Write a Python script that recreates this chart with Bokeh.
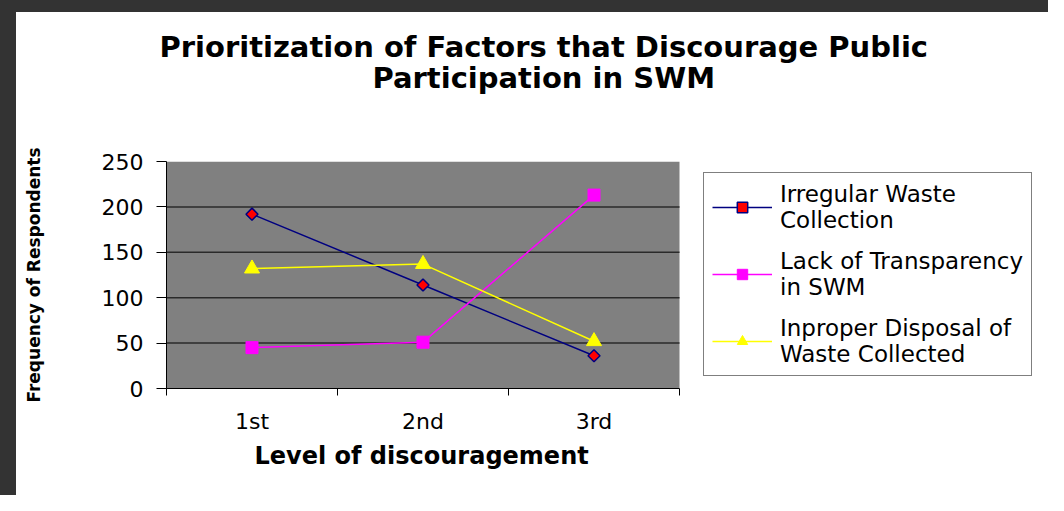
import math
from bokeh.plotting import figure
from bokeh.models import Range1d, FixedTicker, Legend, LegendItem, Title
from bokeh.embed import file_html
from bokeh.resources import INLINE

# ---- data ----
categories = ["1st", "2nd", "3rd"]
irregular = [192, 114, 36]
lack = [45, 51, 213]
inproper = [132, 137, 52]
y_ticks = [0, 50, 100, 150, 200, 250]
title_lines = ["Prioritization of Factors that Discourage Public", "Participation in SWM"]
x_label = "Level of discouragement"
y_label = "Frequency of Respondents"
series_labels = ["Irregular Waste\nCollection", "Lack of Transparency\nin SWM", "Inproper Disposal of\nWaste Collected"]

# ---- layout (pixels) ----
W, H = 1048, 495
PLOT_L, PLOT_R = 166, 679          # plot-area edges
FRAME_R = 1040                     # frame extends right so the legend is not clipped
n = len(categories)
xs = [i + 0.5 for i in range(n)]
bounds = list(range(n + 1))
x_end = n * (FRAME_R - PLOT_L) / (PLOT_R - PLOT_L)

p = figure(width=W, height=H, output_backend="svg", toolbar_location=None,
           x_range=Range1d(0, x_end), y_range=Range1d(y_ticks[0], y_ticks[-1]),
           min_border_left=PLOT_L, min_border_right=W - FRAME_R, min_border_top=161, min_border_bottom=107,
           background_fill_color="white", background_fill_alpha=0,
           border_fill_color="white", border_fill_alpha=0, outline_line_color=None)
p.styles = {"box-shadow": "inset 16px 12px 0px 0px #333333", "background-color": "white"}

FONT = "DejaVu Sans"

# plot area background and horizontal grid lines (only over the categories)
p.quad(left=[0], right=[n], bottom=[y_ticks[0]], top=[y_ticks[-1]],
       fill_color="#808080", line_color=None)
grid_vals = y_ticks[1:-1]
p.segment(x0=[0] * len(grid_vals), x1=[n] * len(grid_vals), y0=grid_vals, y1=grid_vals,
          line_color="#2a2a2a", line_width=1.5)
p.xgrid.visible = False
p.ygrid.visible = False

xa = p.xaxis[0]
xa.bounds = (0, n)
xa.ticker = FixedTicker(ticks=xs, minor_ticks=bounds)
xa.major_label_overrides = {x: c for x, c in zip(xs, categories)}
xa.major_tick_line_color = None
xa.major_tick_out = 0
xa.major_tick_in = 0
xa.minor_tick_in = 0
xa.minor_tick_out = 7
xa.minor_tick_line_color = "black"
xa.axis_line_color = "black"
xa.major_label_standoff = 13
xa.major_label_text_font = FONT
xa.major_label_text_font_size = "22px"
xa.major_label_text_color = "black"

ya = p.yaxis[0]
ya.ticker = FixedTicker(ticks=y_ticks)
ya.minor_tick_line_color = None
ya.major_tick_in = 0
ya.major_tick_out = 10
ya.major_tick_line_color = "black"
ya.axis_line_color = "black"
ya.major_label_standoff = 13
ya.major_label_text_font = FONT
ya.major_label_text_font_size = "22px"
ya.major_label_text_color = "black"
ya.axis_label = y_label
ya.axis_label_text_font = FONT
ya.axis_label_text_font_style = "bold"
ya.axis_label_text_font_size = "17px"
ya.axis_label_text_color = "black"
ya.axis_label_standoff = 55

# x-axis title, centred under the plot area
p.add_layout(Title(text=x_label, align="left", offset=88, standoff=10, vertical_align="top",
                   text_font=FONT, text_font_style="bold", text_font_size="24px", text_color="black"),
             "below")

# series
l1 = p.line(xs, irregular, line_color="#000080", line_width=1.5)
s1 = p.scatter(xs, irregular, marker="square", angle=math.pi / 4, size=8.5,
               fill_color="#ff0000", line_color="#000080", line_width=1.5)
l2 = p.line(xs, lack, line_color="#ff00ff", line_width=1.5)
s2 = p.scatter(xs, lack, marker="square", size=12, fill_color="#ff00ff", line_color="#ff00ff")
l3 = p.line(xs, inproper, line_color="#ffff00", line_width=1.5)
s3 = p.scatter(xs, inproper, marker="triangle", size=15, fill_color="#ffff00", line_color="#ffff00")

legend = Legend(items=[LegendItem(label=series_labels[0], renderers=[l1, s1]),
                       LegendItem(label=series_labels[1], renderers=[l2, s2]),
                       LegendItem(label=series_labels[2], renderers=[l3, s3])],
                location=(703 - PLOT_L, 12))
legend.glyph_width = 60
legend.glyph_height = 26
legend.label_standoff = 8
legend.padding = 8
legend.spacing = 15
legend.margin = 0
legend.border_line_color = "black"
legend.border_line_width = 1
legend.background_fill_color = "white"
legend.background_fill_alpha = 1
legend.label_text_font = FONT
legend.label_text_font_size = "23px"
legend.label_text_color = "black"
legend.label_text_line_height = 1.3
p.add_layout(legend)

# two-line title, centred over the whole chart (spacer title keeps it clear of the plot)
spacer = Title(text=" ", standoff=54, text_font=FONT, text_font_size="10px")
t2 = Title(text=title_lines[1], align="left", offset=206, standoff=0, vertical_align="bottom",
           text_font=FONT, text_font_style="bold", text_font_size="29px", text_color="black")
t1 = Title(text=title_lines[0], align="left", offset=-7, standoff=-10, vertical_align="bottom",
           text_font=FONT, text_font_style="bold", text_font_size="29px", text_color="black")
p.add_layout(spacer, "above")
p.add_layout(t2, "above")
p.add_layout(t1, "above")

open("out.html", "w").write(file_html(p, INLINE))
